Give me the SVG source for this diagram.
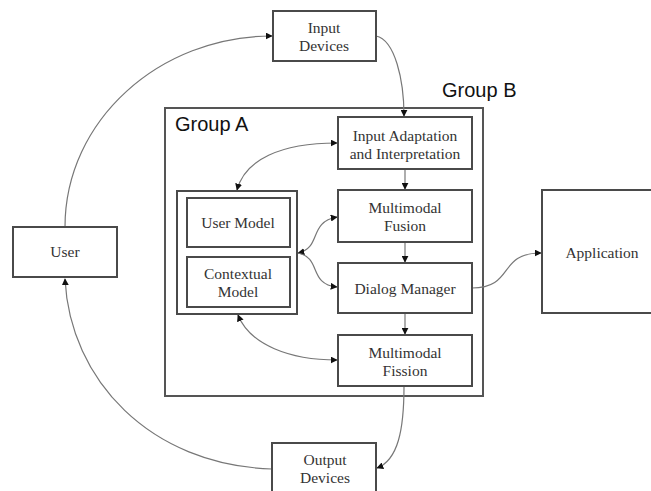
<svg xmlns="http://www.w3.org/2000/svg" width="651" height="491" viewBox="0 0 651 491">
<defs>
<style>
.box{fill:#fff;stroke:#4a4a4a;stroke-width:2}
.grp{fill:none;stroke:#555;stroke-width:2}
.t{font-family:"Liberation Serif","Times New Roman",serif;font-size:15.5px;fill:#333;text-anchor:middle}
.g{font-family:"Liberation Sans",Arial,sans-serif;font-size:20px;fill:#111}
.c{fill:none;stroke:#777;stroke-width:1.2}
.ce{marker-end:url(#ah)}
.cb{marker-start:url(#ahs);marker-end:url(#ah)}
</style>
<marker id="ah" viewBox="0 0 10 10" refX="9" refY="5" markerWidth="7" markerHeight="7" markerUnits="userSpaceOnUse" orient="auto">
<path d="M0,0 L10,5 L0,10 z" fill="#111"/>
</marker>
<marker id="ahs" viewBox="0 0 10 10" refX="1" refY="5" markerWidth="7" markerHeight="7" markerUnits="userSpaceOnUse" orient="auto">
<path d="M10,0 L0,5 L10,10 z" fill="#111"/>
</marker>
</defs>
<rect width="651" height="491" fill="#fff"/>

<g id="groupA">
<rect class="grp" x="165" y="108" width="318" height="288"/>
<text class="g" x="175" y="131">Group A</text>
</g>
<g id="groupB">
<text class="g" x="442" y="97">Group B</text>
</g>

<g id="connectors">
<path class="c ce" d="M65,227 C65,120 160,36 272,36"/>
<path class="c ce" d="M376,36 C395,40 404,80 404,116"/>
<path class="c cb" d="M237,190 C245,160 280,143 337,143"/>
<path class="c ce" d="M405,169 L405,189"/>
<path class="c ce" d="M405,242 L405,262"/>
<path class="c ce" d="M405,313 L405,334"/>
<path class="c cb" d="M298,253 C322,248 308,222 337,217"/>
<path class="c ce" d="M298,253 C322,258 308,284 337,287"/>
<path class="c cb" d="M238,315 C250,345 290,360 337,360"/>
<path class="c ce" d="M472,288 C515,288 497,253 541,253"/>
<path class="c ce" d="M404,386 C404,430 398,460 377,468"/>
<path class="c ce" d="M272,469 C150,465 70,380 65,279"/>
</g>

<g id="inputDevices">
<rect class="box" x="273" y="11" width="103" height="50"/>
<text class="t" x="324" y="33">Input</text>
<text class="t" x="324" y="51">Devices</text>
</g>
<g id="user">
<rect class="box" x="13" y="227" width="104" height="50"/>
<text class="t" x="65" y="257">User</text>
</g>
<g id="inputAdaptation">
<rect class="box" x="338" y="117" width="134" height="52"/>
<text class="t" x="405" y="141">Input Adaptation</text>
<text class="t" x="405" y="159">and Interpretation</text>
</g>
<g id="multimodalFusion">
<rect class="box" x="338" y="190" width="134" height="52"/>
<text class="t" x="405" y="213">Multimodal</text>
<text class="t" x="405" y="231">Fusion</text>
</g>
<g id="dialogManager">
<rect class="box" x="338" y="263" width="134" height="50"/>
<text class="t" x="405" y="294">Dialog Manager</text>
</g>
<g id="multimodalFission">
<rect class="box" x="338" y="335" width="134" height="51"/>
<text class="t" x="405" y="358">Multimodal</text>
<text class="t" x="405" y="376">Fission</text>
</g>
<g id="models">
<rect class="box" x="177" y="191" width="120" height="123"/>
</g>
<g id="userModel">
<rect class="box" x="187" y="198" width="103" height="49"/>
<text class="t" x="238" y="228">User Model</text>
</g>
<g id="contextualModel">
<rect class="box" x="187" y="257" width="103" height="50"/>
<text class="t" x="238" y="279">Contextual</text>
<text class="t" x="238" y="297">Model</text>
</g>
<g id="application">
<rect class="box" x="542" y="190" width="120" height="123"/>
<text class="t" x="602" y="258">Application</text>
</g>
<g id="outputDevices">
<rect class="box" x="272" y="443" width="104" height="60"/>
<text class="t" x="325" y="465">Output</text>
<text class="t" x="325" y="483">Devices</text>
</g>
</svg>
